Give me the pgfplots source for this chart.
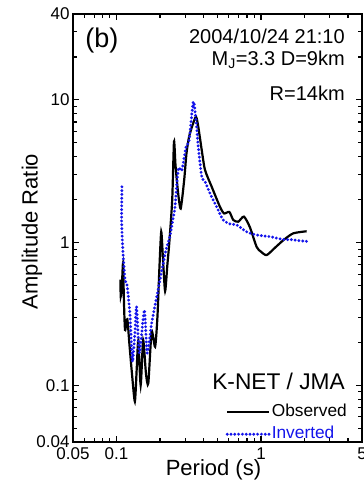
\documentclass[border=0pt]{standalone}
\usepackage{pgfplots}
\pgfplotsset{compat=1.18}
\usepackage{fontspec}
\setmainfont{Liberation Sans}
\usetikzlibrary{calc}
\definecolor{invblue}{RGB}{20,20,235}
\begin{document}
\begin{tikzpicture}
\begin{axis}[
  scale only axis, width=289pt, height=428pt,
  xmode=log, ymode=log,
  xmin=0.05, xmax=5, ymin=0.04, ymax=40,
  xtick={0.05,0.1,1,5}, xticklabels={0.05,0.1,1,5},
  ytick={0.04,0.1,1,10,40}, yticklabels={0.04,0.1,1,10,40},
  minor xtick={0.06,0.07,0.08,0.09,0.2,0.3,0.4,0.5,0.6,0.7,0.8,0.9,2,3,4},
  minor ytick={0.05,0.06,0.07,0.08,0.09,0.2,0.3,0.4,0.5,0.6,0.7,0.8,0.9,2,3,4,5,6,7,8,9,20,30},
  tick align=inside, major tick length=6pt, minor tick length=4pt,
  axis line style={line width=1.6pt},
  every tick/.style={line width=1.1pt, black},
  tick label style={font=\fontsize{17}{17}\selectfont},
  xticklabel style={yshift=-2.5pt},
  /pgf/number format/assume math mode=true,
  xlabel={Period (s)}, ylabel={Amplitude Ratio},
  label style={font=\fontsize{22}{22}\selectfont},
  xlabel style={at={(axis description cs:0.486,-0.0794)}, anchor=base},
  ylabel style={at={(axis description cs:-0.142,0.492)}, anchor=center},
  legend style={draw=none, fill=none, at={(axis description cs:0.962,-0.008)}, anchor=south east,
    font=\fontsize{17.3}{19}\selectfont, row sep=4.5pt,
    nodes={inner sep=1pt, text height=12.5pt, text depth=3.5pt}},
  legend cell align=left,
  legend image code/.code={\draw[#1] (0pt,0pt) -- (42pt,0pt);},
]
\addplot[black, line width=2.2pt, smooth, tension=0.4] coordinates {
(0.1065,0.55) (0.107,0.42) (0.109,0.50) (0.111,0.72) (0.1125,0.40) (0.1146,0.244)
(0.1188,0.29) (0.1227,0.197) (0.128,0.12) (0.134,0.077) (0.138,0.13) (0.1416,0.207)
(0.147,0.100) (0.153,0.207) (0.160,0.12) (0.166,0.103) (0.175,0.237) (0.185,0.186)
(0.192,0.30) (0.198,0.65) (0.204,1.19) (0.210,0.75) (0.217,0.457) (0.225,0.70)
(0.232,1.0) (0.243,2.0) (0.250,5.1) (0.256,3.5) (0.266,2.3) (0.278,1.73)
(0.294,2.74) (0.305,4.22) (0.318,5.52) (0.335,6.6) (0.355,7.62) (0.368,6.5)
(0.389,4.45) (0.41,3.22) (0.456,2.46) (0.52,1.78) (0.555,1.6) (0.604,1.64)
(0.643,1.44) (0.696,1.40) (0.762,1.52) (0.838,1.28) (0.934,0.93) (1.0,0.863)
(1.094,0.817) (1.25,0.92) (1.43,1.04) (1.67,1.16) (2.07,1.2)
};
\addlegendentry{Observed}
\addplot[invblue, line width=3.2pt, line cap=round, dash pattern=on 0pt off 3.8pt, smooth, tension=0.4] coordinates {
(0.109,2.46) (0.1085,1.4) (0.111,0.84) (0.1146,0.546) (0.1177,0.518) (0.1208,0.417)
(0.1242,0.302) (0.129,0.146) (0.134,0.231) (0.1377,0.356) (0.144,0.168) (0.156,0.337)
(0.163,0.168) (0.175,0.271) (0.190,0.417) (0.206,0.642) (0.220,0.885) (0.234,1.10)
(0.247,1.5) (0.254,1.78) (0.268,3.3) (0.283,3.2) (0.303,4.7) (0.318,5.2) (0.34,9.7)
(0.355,7.2) (0.368,4.7) (0.389,2.9) (0.41,2.67) (0.444,2.21) (0.493,1.78) (0.548,1.44)
(0.611,1.35) (0.679,1.33) (0.796,1.19) (0.934,1.13) (1.153,1.1) (1.427,1.05) (1.589,1.05)
(1.86,1.03) (2.07,1.02)
};
\addlegendentry[text=invblue]{Inverted}
\node[anchor=base west, font=\fontsize{27}{27}\selectfont] at (axis description cs:0.031,0.9206) {(b)};
\node[anchor=base east, font=\fontsize{20}{20}\selectfont] at (axis description cs:0.9526,0.9315) {2004/10/24 21:10};
\node[anchor=base east, font=\fontsize{20}{20}\selectfont] at (axis description cs:0.9526,0.8808) {M\textsubscript{J}=3.3 D=9km};
\node[anchor=base east, font=\fontsize{20}{20}\selectfont] at (axis description cs:0.9526,0.799) {R=14km};
\node[anchor=base east, font=\fontsize{22.7}{22.7}\selectfont] at (axis description cs:0.9526,0.1215) {K-NET / JMA};
\end{axis}
\pgfresetboundingbox
\path[use as bounding box] ($(current axis.south west)+(-73pt,-44pt)$) rectangle ($(current axis.north east)+(2pt,14pt)$);
\end{tikzpicture}
\end{document}
